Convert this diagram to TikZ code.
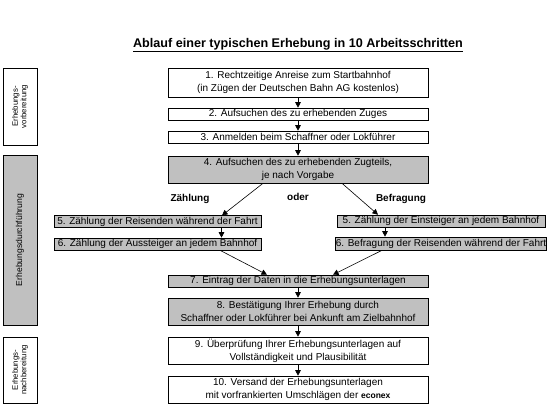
\documentclass[tikz,border=0pt]{standalone}
\usepackage{fontspec}
\setmainfont{Liberation Sans}
\usepackage{tikz}
\usetikzlibrary{arrows.meta}

\definecolor{boxgray}{RGB}{192,192,192}

\tikzset{
	stepbox/.style={draw, line width=0.6pt, fill=white, minimum width=260pt,
		inner sep=0pt, align=center, font=\fontsize{10}{13}\selectfont},
	phasebox/.style={draw, line width=0.6pt, fill=white, minimum width=34pt,
		inner sep=0pt, align=center},
	phaselabel/.style={rotate=90, align=center, font=\fontsize{7.8}{8.5}\selectfont},
	branch/.style={font=\bfseries\fontsize{10}{11}\selectfont},
	flow/.style={-{Triangle[length=5.5pt,width=5.5pt]}, line width=0.6pt}
}

\begin{document}
\begin{tikzpicture}[x=1pt, y=-1pt]
			\useasboundingbox (0,0) rectangle (555,413);

			% Title
			\node [font=\bfseries\fontsize{12.6}{14}\selectfont] (title) at (298,45)
				{\underline{Ablauf einer typischen Erhebung in 10 Arbeitsschritten}};

			% Phases
			\node [phasebox,
				minimum height=77pt
				] (vor) at (20,106.5) {};
			\node [phaselabel] at (vor) {Erhebungs-\\vorbereitung};

			\node [phasebox,
				fill=boxgray,
				minimum height=170pt
				] (durch) at (20,240) {};
			\node [phaselabel, font=\fontsize{8.6}{9}\selectfont] at (durch) {Erhebungsdurchführung};

			\node [phasebox,
				minimum height=66pt
				] (nach) at (20,370) {};
			\node [phaselabel] at (nach) {Erhebungs-\\nachbereitung};

			% Steps 1 - 4
			\node [stepbox,
				minimum height=29pt
				] (s1) at (298,82.5) {1. Rechtzeitige Anreise zum Startbahnhof\\(in Zügen der Deutschen Bahn AG kostenlos)};
			\node [stepbox,
				minimum height=12pt
				] (s2) at (298,114) {2. Aufsuchen des zu erhebenden Zuges};
			\node [stepbox,
				minimum height=12pt
				] (s3) at (298,137) {3. Anmelden beim Schaffner oder Lokführer};
			\node [stepbox,
				fill=boxgray,
				minimum height=27pt
				] (s4) at (298,169.5) {4. Aufsuchen des zu erhebenden Zugteils,\\je nach Vorgabe};

			% Branches
			\node [branch] (zaehl) at (190,199) {Zählung};
			\node [branch] (oder) at (298,197) {oder};
			\node [branch] (befr) at (401,199) {Befragung};

			\node [stepbox,
				fill=boxgray,
				minimum width=207pt,
				minimum height=11.5pt
				] (z5) at (157.5,221.5) {5. Zählung der Reisenden während der Fahrt};
			\node [stepbox,
				fill=boxgray,
				minimum width=207pt,
				minimum height=12pt
				] (z6) at (157.5,244) {6. Zählung der Aussteiger an jedem Bahnhof};
			\node [stepbox,
				fill=boxgray,
				minimum width=208pt,
				minimum height=12pt
				] (b5) at (441,221) {5. Zählung der Einsteiger an jedem Bahnhof};
			\node [stepbox,
				fill=boxgray,
				minimum width=208pt,
				minimum height=13pt
				] (b6) at (441,243.5) {6. Befragung der Reisenden während der Fahrt};

			% Steps 7 - 10
			\node [stepbox,
				fill=boxgray,
				minimum height=12pt
				] (s7) at (298,281) {7. Eintrag der Daten in die Erhebungsunterlagen};
			\node [stepbox,
				fill=boxgray,
				minimum height=27pt
				] (s8) at (298,311.5) {8. Bestätigung Ihrer Erhebung durch\\Schaffner oder Lokführer bei Ankunft am Zielbahnhof};
			\node [stepbox,
				minimum height=27pt
				] (s9) at (298,350.5) {9. Überprüfung Ihrer Erhebungsunterlagen auf\\Vollständigkeit und Plausibilität};
			\node [stepbox,
				minimum height=27pt
				] (s10) at (298,389.5) {10. Versand der Erhebungsunterlagen\\mit vorfrankierten Umschlägen der {\bfseries\fontsize{8.5}{13}\selectfont econex}};

			% Arrows
			\draw[flow] (s1.south) -- (s2.north);
			\draw[flow] (s2.south) -- (s3.north);
			\draw[flow] (s3.south) -- (s4.north);
			\draw[flow] ([xshift=-35pt]s4.south) -- ([xshift=64.5pt]z5.north);
			\draw[flow] ([xshift=44pt]s4.south) -- ([xshift=-63pt]b5.north);
			\draw[flow] ([xshift=64pt]z5.south) -- ([xshift=64pt]z6.north);
			\draw[flow] ([xshift=-56pt]b5.south) -- ([xshift=-56pt]b6.north);
			\draw[flow] ([xshift=62.5pt]z6.south) -- ([xshift=-31pt]s7.north);
			\draw[flow] ([xshift=-59pt]b6.south) -- ([xshift=35pt]s7.north);
			\draw[flow] (s7.south) -- (s8.north);
			\draw[flow] (s8.south) -- (s9.north);
			\draw[flow] (s9.south) -- (s10.north);

		\end{tikzpicture}
\end{document}
